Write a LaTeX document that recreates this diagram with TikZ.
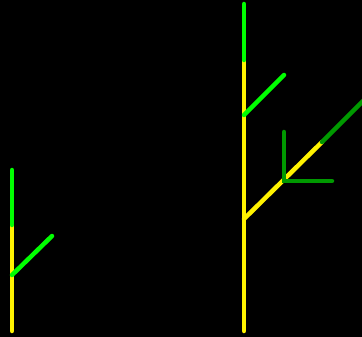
\documentclass[tikz,border=0pt]{standalone}
\usepackage{tikz}

\begin{document}
\begin{tikzpicture}[x=1pt, y=-1pt, line cap=round,
  trunk/.style={yellow, line width=4.5pt},
  leaf/.style={green, line width=4.5pt},
  oldleaf/.style={green!60!black, line width=4.5pt}]
\fill[black] (0,0) rectangle (362,337);
\useasboundingbox (0,0) rectangle (362,337);
% small tree
\draw[trunk] (12,331) -- (12,225);
\draw[leaf] (12,225) -- (12,170);
\draw[leaf] (12,275) -- (52,236);
% big tree
\draw[trunk] (244,331) -- (244,60);
\draw[leaf] (244,60) -- (244,4);
\draw[leaf] (244,115) -- (284,75);
\draw[trunk] (244,219) -- (322,142);
\draw[oldleaf] (322,142) -- (364,100);
\draw[oldleaf] (284,132) -- (284,181) -- (332,181);
\end{tikzpicture}
\end{document}
